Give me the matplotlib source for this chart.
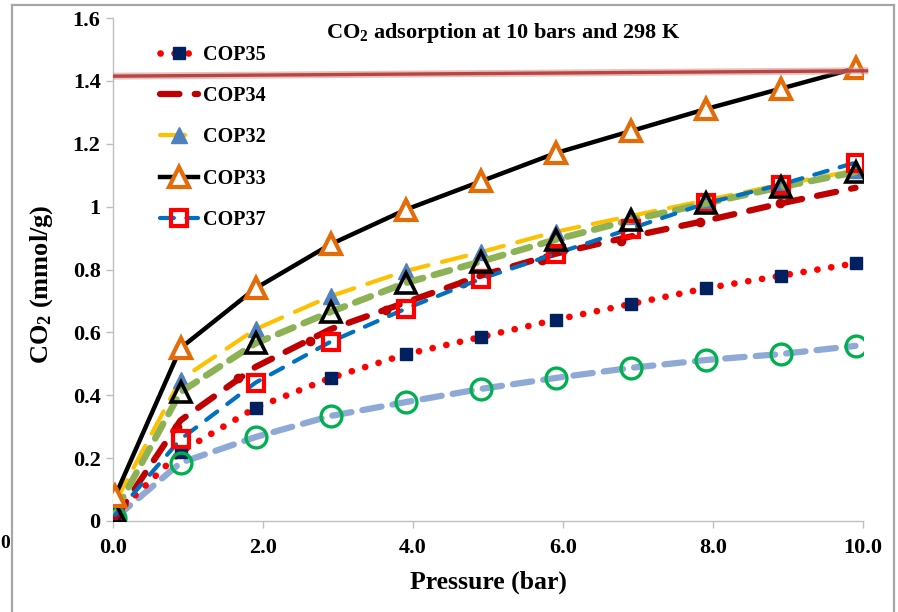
import numpy as np
import matplotlib
matplotlib.use('Agg')
import matplotlib.pyplot as plt
from matplotlib.lines import Line2D

plt.rcParams['font.family'] = ['Liberation Serif', 'DejaVu Serif']
plt.rcParams['font.weight'] = 'bold'
plt.rcParams['axes.labelweight'] = 'bold'
plt.rcParams['mathtext.fontset'] = 'custom'
plt.rcParams['mathtext.rm'] = 'Liberation Serif:bold'
plt.rcParams['mathtext.it'] = 'Liberation Serif:bold'
plt.rcParams['mathtext.bf'] = 'Liberation Serif:bold'
plt.rcParams['lines.scale_dashes'] = False

# data
pressure = [0.03, 0.9, 1.9, 2.9, 3.9, 4.9, 5.9, 6.9, 7.9, 8.9, 9.9]
cop35 = [0.02, 0.22, 0.36, 0.455, 0.53, 0.585, 0.64, 0.69, 0.74, 0.78, 0.82]
cop34 = [0.01, 0.32, 0.49, 0.61, 0.695, 0.78, 0.85, 0.905, 0.955, 1.01, 1.06]
cop34_dot_x = [0.85, 1.67, 2.63, 3.64, 4.67, 5.72, 6.77, 7.83, 8.89]
cop34_dot_y = [0.30, 0.455, 0.573, 0.67, 0.757, 0.83, 0.89, 0.95, 1.01]
cop32 = [0.06, 0.45, 0.61, 0.715, 0.795, 0.855, 0.92, 0.97, 1.02, 1.07, 1.115]
cop33 = [0.08, 0.55, 0.74, 0.88, 0.99, 1.08, 1.17, 1.24, 1.31, 1.375, 1.44]
cop37 = [0.02, 0.26, 0.44, 0.57, 0.675, 0.77, 0.85, 0.93, 1.01, 1.07, 1.14]
extra_a = [0.03, 0.41, 0.565, 0.665, 0.757, 0.825, 0.895, 0.957, 1.01, 1.062, 1.11]
extra_b = [0.01, 0.185, 0.267, 0.334, 0.378, 0.42, 0.455, 0.487, 0.512, 0.531, 0.557]
ref_x = [0.0, 10.07]
ref_y = [1.415, 1.432]

xticks = [0, 2, 4, 6, 8, 10]
xtick_labels = ['0.0', '2.0', '4.0', '6.0', '8.0', '10.0']
yticks = [0, 0.2, 0.4, 0.6, 0.8, 1.0, 1.2, 1.4, 1.6]
ytick_labels = ['0', '0.2', '0.4', '0.6', '0.8', '1', '1.2', '1.4', '1.6']


def main():
    fig = plt.figure(figsize=(8.98, 6.12), dpi=100)
    ax = fig.add_axes([113/898, 1-521/612, 750/898, 503/612])

    # unlabeled series
    ax.plot(pressure, extra_b, color='#8EA9D6', lw=4.5, dashes=(14, 8),
            dash_capstyle='round', zorder=2)
    ax.plot(pressure, extra_b, ls='none', marker='o', ms=15, mfc='none',
            mec='#00B050', mew=2.4, zorder=6)

    l35, = ax.plot(pressure, cop35, color='#FF0000', lw=4.8, dashes=(0.1, 10),
                   dash_capstyle='round', marker='s', ms=8.5, mfc='#002060',
                   mec='#002060', zorder=3)
    l34, = ax.plot(pressure, cop34, color='#C00000', lw=4.5, dashes=(14, 11),
                   dash_capstyle='round', zorder=3)
    ax.plot(cop34_dot_x, cop34_dot_y, ls='none', marker='o', ms=6,
            color='#C00000', zorder=3)
    l37, = ax.plot(pressure, cop37, color='#0070C0', lw=3, dashes=(10, 9),
                   dash_capstyle='round', marker='s', ms=12, mfc='none',
                   mec='#FF0000', mew=3, zorder=5)
    l32, = ax.plot(pressure, cop32, color='#FFC000', lw=3, dashes=(18, 10),
                   dash_capstyle='round', marker='^', ms=11, mfc='#4F81BD',
                   mec='#4F81BD', zorder=4)
    ax.plot(pressure, extra_a, color='#8DB255', lw=4.8, dashes=(12, 8),
            dash_capstyle='round', zorder=4)
    ax.plot(pressure, extra_a, ls='none', marker='^', ms=15, mfc='none',
            mec='#000000', mew=2.6, zorder=6)
    l33, = ax.plot(pressure, cop33, color='black', lw=3.2, marker='^', ms=14,
                   mfc='white', mec='#E36C09', mew=3, zorder=7)

    ax.plot(ref_x, ref_y, color='#D99694', lw=5, alpha=0.6, clip_on=False,
            solid_capstyle='butt', zorder=8)
    ax.plot(ref_x, ref_y, color='#B8453F', lw=2.4, clip_on=False,
            solid_capstyle='butt', zorder=9)

    ax.set_xlim(0, 10)
    ax.set_ylim(0, 1.6)
    ax.set_xticks(xticks)
    ax.set_xticklabels(xtick_labels)
    ax.set_yticks(yticks)
    ax.set_yticklabels(ytick_labels)
    ax.tick_params(labelsize=16, length=5, width=1, color='#BFBFBF', pad=4)
    ax.tick_params(axis='x', pad=7)
    for s in ['top', 'right']:
        ax.spines[s].set_visible(False)
    for s in ['left', 'bottom']:
        ax.spines[s].set_color('#BFBFBF')
        ax.spines[s].set_linewidth(1)

    ax.set_xlabel('Pressure (bar)', fontsize=18.5, fontweight='bold', labelpad=9)
    ax.set_ylabel('CO$_2$ (mmol/g)', fontsize=19, fontweight='bold')
    ax.yaxis.set_label_coords(-0.077, 0.47)
    ax.text(0.52, 0.97, 'CO$_2$ adsorption at 10 bars and 298 K', fontsize=16,
            fontweight='bold', transform=ax.transAxes, ha='center', va='center')

    leg = ax.legend([l35, l34, l32, l33, l37],
                    ['COP35', 'COP34', 'COP32', 'COP33', 'COP37'],
                    loc='upper left', bbox_to_anchor=(0.038, 0.982),
                    frameon=False, fontsize=14.5, numpoints=1,
                    handlelength=1.9, handletextpad=0.25, labelspacing=1.05)

    # outer frame of the screenshot
    for xs, ys in [([12/898, 12/898], [0, 1-5/612]),
                   ([12/898, 894/898], [1-5/612, 1-5/612]),
                   ([894/898, 894/898], [0, 1-5/612])]:
        fig.add_artist(Line2D(xs, ys, color='#A6A6A6', lw=1.6))
    fig.text(0.5/898, 1-543/612, '0', fontsize=14, ha='left', va='center')

    plt.savefig('out.png')
    plt.close()


if __name__ == "__main__":
    main()
